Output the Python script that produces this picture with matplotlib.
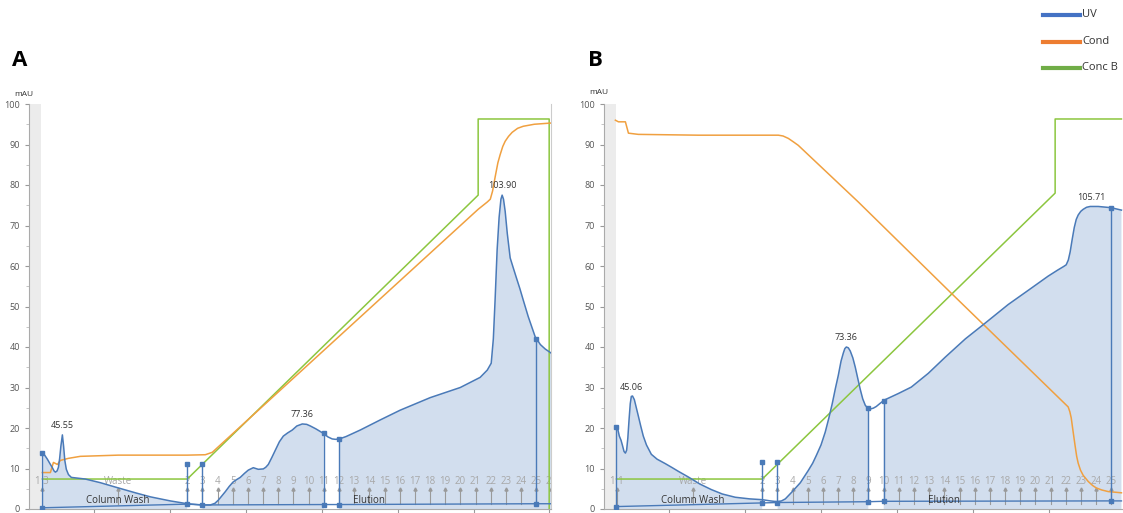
import numpy as np
import matplotlib
matplotlib.use("Agg")
from matplotlib import pyplot as plt

plt.rcParams['font.family'] = ['Open Sans', 'DejaVu Sans']

# colours
uv_line = '#4a7ab8'
uv_fill = '#d2deee'
cond_col = '#f0a040'
concb_col = '#8cc63f'

# ---------------- Panel A data (x in mL, y in mAU) ----------------
a_uv_x = [1.58, 1.75, 1.91, 2.08, 2.24, 2.35, 2.44, 2.55, 2.64, 2.72, 2.80, 2.90, 2.98, 3.06, 3.16,
          3.30, 3.49, 4.41, 5.40, 6.59, 7.71, 8.70, 10.01, 11.13, 12.12, 12.65, 12.95, 13.18, 13.40,
          13.64, 13.90, 14.16, 14.40, 14.62, 14.90, 15.15, 15.48, 15.81, 16.14, 16.30, 16.47, 16.70,
          16.93, 17.20, 17.46, 17.75, 18.05, 18.35, 18.71, 19.00, 19.24, 19.60, 20.09, 20.40, 20.68,
          20.90, 21.15, 21.60, 22.53, 23.85, 25.16, 27.14, 29.12, 30.43, 30.90, 31.16, 31.30, 31.42,
          31.55, 31.68, 31.80, 31.88, 31.97, 32.08, 32.22, 32.41, 32.60, 32.81, 33.05, 33.27, 33.60,
          34.06, 34.40, 34.72, 35.11]
a_uv_y = [13.8, 13.2, 12.3, 11.2, 10.2, 9.4, 9.1, 9.4, 10.3, 12.5, 15.5, 18.3, 15.5, 12.0, 9.8,
          8.5, 7.8, 7.4, 6.5, 5.2, 4.0, 3.0, 2.0, 1.3, 1.0, 1.0, 1.4, 2.2, 3.2,
          4.3, 5.6, 6.7, 7.3, 7.8, 8.8, 9.6, 10.2, 9.8, 9.9, 10.3, 11.0, 12.7,
          14.5, 16.6, 18.0, 18.8, 19.5, 20.5, 21.0, 20.9, 20.5, 19.8, 18.7, 17.8, 17.3,
          17.2, 17.3, 17.9, 19.5, 22.0, 24.4, 27.5, 30.0, 32.5, 34.3, 36.0, 42.0, 52.0,
          64.0, 72.0, 76.5, 77.5, 76.5, 73.5, 68.0, 62.0, 59.7, 57.2, 54.4, 51.6, 47.5,
          42.5, 40.6, 39.5, 38.5]
a_cond_x = [1.58, 2.11, 2.31, 2.57, 2.77, 3.29, 4.08, 6.59, 11.13, 12.32, 12.78, 30.30, 30.90,
            31.10, 31.25, 31.42, 31.60, 31.75, 31.92, 32.08, 32.30, 32.54, 32.90, 33.27, 34.00, 35.11]
a_cond_y = [9.0, 9.0, 11.5, 11.0, 12.0, 12.5, 13.0, 13.3, 13.3, 13.4, 14.0, 74.0, 75.8,
            76.5, 78.5, 82.0, 85.5, 87.5, 89.5, 90.8, 92.0, 93.0, 94.0, 94.5, 95.0, 95.3]
a_concb_x = [1.58, 11.13, 30.30, 30.30, 34.98, 34.98]
a_concb_y = [7.4, 7.4, 77.5, 96.3, 96.3, 0.0]
a_base_x = [1.58, 11.13, 12.13, 20.13, 21.13, 34.13, 35.11]
a_base_y = [0.3, 1.2, 1.0, 1.1, 1.1, 1.3, 1.3]
a_cuts = [1.58, 11.13, 12.13, 20.13, 21.13, 34.13]
a_cut_tops = [13.8, 11.0, 11.0, 18.7, 17.3, 41.9]
a_gaps = [(11.13, 12.13), (20.13, 21.13)]
a_peaks_x = [2.90, 18.71, 31.88]
a_peaks_y = [18.3, 21.0, 77.5]
a_peak_labels = ['45.55', '77.36', '103.90']

# ---------------- Panel B data ----------------
b_uv_x = [1.52, 1.62, 1.71, 1.82, 1.91, 2.02, 2.11, 2.19, 2.27, 2.35, 2.43, 2.50, 2.58, 2.70, 2.83,
          2.96, 3.12, 3.29, 3.50, 3.82, 4.20, 4.74, 5.20, 5.60, 6.26, 7.00, 7.77, 8.50, 9.35, 10.30,
          11.13, 11.66, 12.12, 12.40, 12.65, 13.11, 13.64, 14.16, 14.45, 14.69, 15.00, 15.28, 15.52,
          15.74, 15.95, 16.14, 16.32, 16.47, 16.57, 16.67, 16.80, 16.93, 17.10, 17.26, 17.42, 17.59,
          17.75, 17.92, 18.08, 18.25, 18.45, 18.64, 18.90, 19.17, 20.09, 20.95, 22.07, 23.19, 24.51,
          25.82, 27.34, 28.66, 29.97, 30.60, 31.00, 31.16, 31.30, 31.42, 31.55, 31.69, 31.82, 31.95,
          32.12, 32.28, 32.50, 32.74, 33.27, 34.12, 34.80]
b_uv_y = [20.2, 19.5, 18.0, 17.0, 15.8, 14.2, 13.8, 14.5, 17.5, 22.0, 26.0, 27.8, 27.9, 27.0, 25.0,
          23.0, 20.5, 18.0, 15.8, 13.5, 12.3, 11.2, 10.2, 9.3, 7.9, 6.2, 4.8, 3.7, 2.9, 2.5,
          2.3, 2.0, 1.8, 2.0, 2.5, 4.3, 6.5, 9.5, 11.3, 13.2, 15.8, 19.0, 22.5,
          26.0, 29.8, 33.0, 36.5, 38.5, 39.6, 40.0, 39.8, 39.0, 37.3, 35.0, 32.3, 29.5,
          27.2, 25.6, 24.9, 24.7, 24.9, 25.3, 26.1, 26.9, 28.5, 30.1, 33.5, 37.5, 42.0,
          45.9, 50.5, 54.0, 57.5, 59.0, 59.9, 60.3, 61.5, 63.5, 66.5, 69.5, 71.5, 72.6,
          73.5, 74.0, 74.5, 74.7, 74.7, 74.4, 73.8]
b_cond_x = [1.45, 1.65, 2.11, 2.31, 2.96, 6.92, 12.19, 12.50, 12.85, 13.20, 13.50, 17.46, 23.58,
            31.29, 31.40, 31.49, 31.60, 31.75, 31.85, 31.95, 32.10, 32.28, 32.61, 32.90, 33.14,
            33.50, 33.93, 34.80]
b_cond_y = [96.0, 95.6, 95.6, 92.8, 92.5, 92.3, 92.3, 92.1, 91.5, 90.6, 89.8, 75.8, 53.3,
            25.2, 24.0, 22.5, 19.5, 15.5, 13.0, 11.3, 9.6, 8.3, 6.8, 5.8, 5.2,
            4.7, 4.3, 4.0]
b_concb_x = [1.52, 11.13, 30.43, 30.43, 34.80]
b_concb_y = [7.4, 7.4, 78.0, 96.3, 96.3]
b_base_x = [1.52, 11.13, 12.13, 18.13, 19.13, 34.13, 34.80]
b_base_y = [0.6, 1.5, 1.6, 1.8, 1.9, 2.0, 2.0]
b_cuts = [1.52, 11.13, 12.13, 18.13, 19.13, 34.13]
b_cut_tops = [20.2, 11.6, 11.6, 25.0, 26.7, 74.4]
b_gaps = [(11.13, 12.13), (18.13, 19.13)]
b_peaks_x = [2.50, 16.67, 32.80]
b_peaks_y = [27.8, 40.0, 74.7]
b_peak_labels = ['45.06', '73.36', '105.71']

# fractions (same tube positions in both runs)
frac_start = 1.58
waste_pos = 6.55
frac2_pos = 11.13
frac_numbers_a = list(range(2, 27))
frac_numbers_b = list(range(2, 26))

xlim = (0.7, 35.1)


def draw_panel(ax, uv_x, uv_y, cond_x, cond_y, cb_x, cb_y, base_x, base_y,
               cuts, cut_tops, gaps, pk_x, pk_y, pk_lab, first_lab, frac_numbers):
    ax.set_xlim(*xlim)
    ax.set_ylim(0, 100)
    ax.axvspan(xlim[0], 1.5, color='#ececec', zorder=0, lw=0)

    # UV fill, leaving the gaps between peak windows white
    xs = np.linspace(uv_x[0], uv_x[-1], 2000)
    ys = np.interp(xs, uv_x, uv_y)
    mask = np.ones_like(xs, dtype=bool)
    for g0, g1 in gaps:
        mask &= ~((xs > g0) & (xs < g1))
    ax.fill_between(xs, 0, ys, where=mask, color=uv_fill, lw=0, zorder=1)
    ax.plot(uv_x, uv_y, color=uv_line, lw=1.1, zorder=4)

    ax.plot(cb_x, cb_y, color=concb_col, lw=1.1, zorder=3)
    ax.plot(cond_x, cond_y, color=cond_col, lw=1.1, zorder=3)

    # integration baseline and peak window limits
    ax.plot(base_x, base_y, color=uv_line, lw=1.0, zorder=4)
    for cx, ct in zip(cuts, cut_tops):
        cb = np.interp(cx, base_x, base_y)
        ax.plot([cx, cx], [cb, ct], color=uv_line, lw=1.0, zorder=4)
        ax.plot([cx, cx], [cb, ct], ls='none', marker='s', ms=2.5, color=uv_line, zorder=5)

    # peak labels
    for px, py, lab in zip(pk_x, pk_y, pk_lab):
        ax.text(px, py + 1.2, lab, ha='center', va='bottom', fontsize=6.5, color='#333333')

    # fraction marks
    frac_pos = [frac2_pos + (n - 2) for n in frac_numbers]
    marks = [frac_start, waste_pos] + frac_pos
    labels = [first_lab, 'Waste'] + [str(n) for n in frac_numbers]
    for mx, ml in zip(marks, labels):
        ax.plot([mx, mx], [1.3, 5.0], color='#9a9a9a', lw=0.8, zorder=2, clip_on=True)
        ax.plot(mx, 5.0, marker='^', ms=2.2, color='#9a9a9a', zorder=2, clip_on=True)
        ax.text(mx, 6.9, ml, ha='center', va='center', fontsize=7, color='#a8a8a8',
                zorder=2, clip_on=True)

    ax.text(6.55, 2.2, 'Column Wash', ha='center', va='center', fontsize=7, color='#333333', zorder=6)
    ax.text(23.1, 2.2, 'Elution', ha='center', va='center', fontsize=7, color='#333333', zorder=6)

    ax.set_yticks(range(0, 101, 10))
    ax.set_yticks(range(5, 100, 10), minor=True)
    ax.set_xticks(range(5, 36, 5))
    ax.tick_params(axis='y', labelsize=6.5, labelcolor='#555555', color='#999999', length=3)
    ax.tick_params(axis='y', which='minor', color='#bbbbbb', length=2)
    ax.tick_params(axis='x', labelbottom=False, color='#999999', length=3)
    for s in ['top', 'right']:
        ax.spines[s].set_visible(False)
    for s in ['left', 'bottom']:
        ax.spines[s].set_color('#aaaaaa')
        ax.spines[s].set_linewidth(0.8)


fig = plt.figure(figsize=(11.23, 5.13), dpi=100)

ax_a = fig.add_axes([29 / 1123, 4 / 513, 522 / 1123, 405 / 513])
draw_panel(ax_a, a_uv_x, a_uv_y, a_cond_x, a_cond_y, a_concb_x, a_concb_y, a_base_x, a_base_y,
           a_cuts, a_cut_tops, a_gaps, a_peaks_x, a_peaks_y, a_peak_labels, '1 3', frac_numbers_a)
ax_a.spines['right'].set_visible(True)
ax_a.spines['right'].set_color('#cccccc')

ax_b = fig.add_axes([604 / 1123, 4 / 513, 522 / 1123, 405 / 513])
draw_panel(ax_b, b_uv_x, b_uv_y, b_cond_x, b_cond_y, b_concb_x, b_concb_y, b_base_x, b_base_y,
           b_cuts, b_cut_tops, b_gaps, b_peaks_x, b_peaks_y, b_peak_labels, '1 1', frac_numbers_b)

# panel letters and mAU labels
fig.text(12 / 1123, 1 - 60 / 513, 'A', fontsize=16, fontweight='bold', va='center', ha='left')
fig.text(588 / 1123, 1 - 60 / 513, 'B', fontsize=16, fontweight='bold', va='center', ha='left')
fig.text(14 / 1123, 1 - 95 / 513, 'mAU', fontsize=6, color='#333333', va='center', ha='left')
fig.text(589 / 1123, 1 - 93 / 513, 'mAU', fontsize=6, color='#333333', va='center', ha='left')

# legend
leg_names = ['UV', 'Cond', 'Conc B']
leg_cols = ['#4472c4', '#ed7d31', '#70ad47']
leg_y = [15, 42, 68]
for name, col, yy in zip(leg_names, leg_cols, leg_y):
    y = 1 - yy / 513
    fig.add_artist(plt.Line2D([1043 / 1123, 1080 / 1123], [y, y], color=col, lw=3,
                              transform=fig.transFigure))
    fig.text(1082 / 1123, y, name, fontsize=8, color='#333333', va='center', ha='left')

fig.savefig('out.png', dpi=100)
